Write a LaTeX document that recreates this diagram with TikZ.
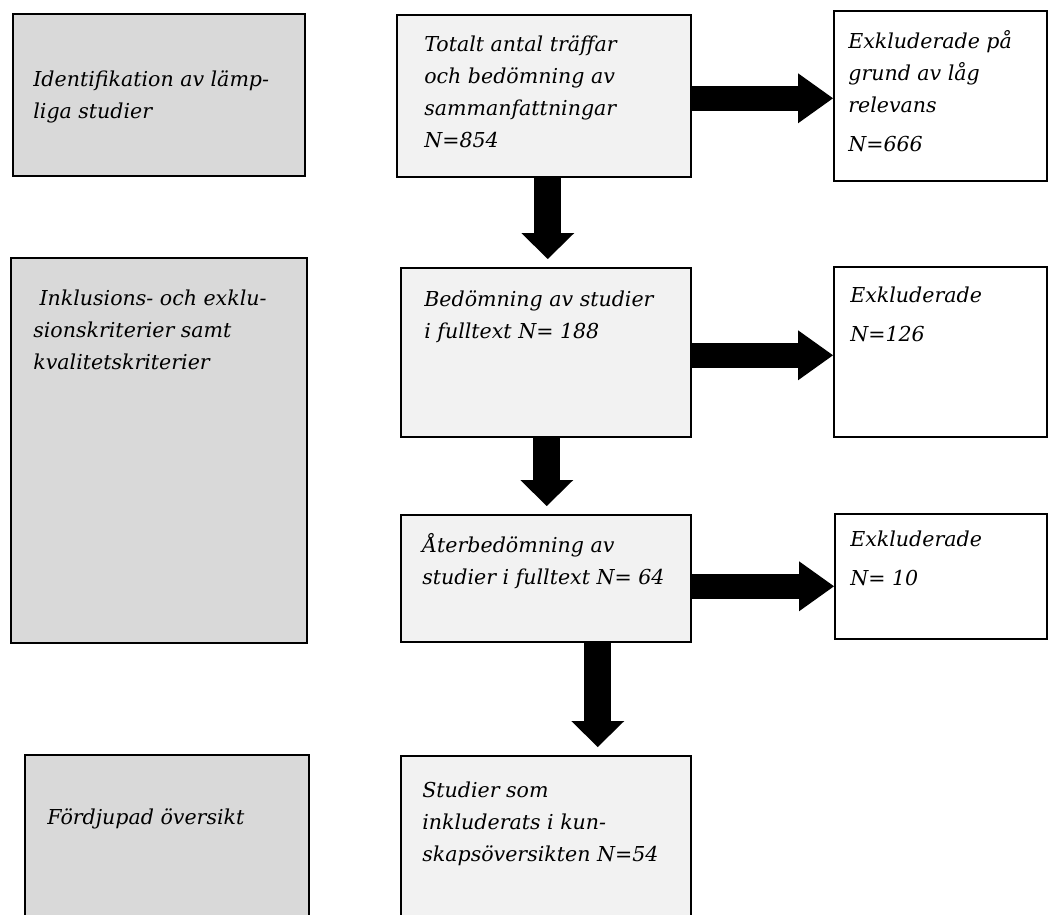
\documentclass[tikz,border=0pt]{standalone}
\usepackage{fontspec}
\setmainfont{DejaVu Serif}
\usetikzlibrary{arrows.meta,positioning,calc}
\definecolor{phasegray}{HTML}{D9D9D9}
\definecolor{flowgray}{HTML}{F2F2F2}
\tikzset{
  boxbase/.style={rectangle,draw=black,line width=0.9pt,anchor=north west,inner sep=0pt},
  phase/.style={boxbase,fill=phasegray},
  flow/.style={boxbase,fill=flowgray},
  excl/.style={boxbase,fill=white},
  txt/.style={anchor=north west,inner sep=0pt,align=left,
    font=\fontsize{11.7pt}{18.2pt}\selectfont\itshape},
  fatdown/.style={line width=0.54cm,
    -{Triangle[length=0.52cm,width=1.06cm,line width=0pt]},shorten >=0.16cm},
  fatright/.style={line width=0.5cm,
    -{Triangle[length=0.7cm,width=1.0cm,line width=0pt]}}
}
\begin{document}
\begin{tikzpicture}[x=0.02cm,y=-0.02cm]
\useasboundingbox (0,0) rectangle (1048,914);
\clip (0,0) rectangle (1048,914);

% left column
\node[phase,minimum width=5.84cm,minimum height=3.24cm] (ident) at (12,13) {};
\node[phase,minimum width=5.92cm,minimum height=7.70cm] (incl) at (10,257) {};
\node[phase,minimum width=5.68cm,minimum height=3.52cm] (ford) at (24,754) {};

% middle column
\node[flow,minimum width=5.88cm,minimum height=3.24cm] (tot) at (396,14) {};
\node[flow,minimum width=5.80cm,minimum height=3.38cm] (bed) at (400,267) {};
\node[flow,minimum width=5.80cm,minimum height=2.54cm] (ater) at (400,514) {};
\node[flow,minimum width=5.80cm,minimum height=3.50cm] (stud) at (400,755) {};

% right column
\node[excl,minimum width=4.26cm,minimum height=3.40cm] (ex1) at (833,10) {};
\node[excl,minimum width=4.26cm,minimum height=3.40cm] (ex2) at (833,266) {};
\node[excl,minimum width=4.24cm,minimum height=2.50cm] (ex3) at (834,513) {};

% texts
\node[txt] (identtxt) at ([shift={(21,57)}]ident.north west)
  {Identifikation av lämp-\\liga studier};
\node[txt] (incltxt) at ([shift={(23,33)}]incl.north west)
  {\hspace{0.3em}Inklusions- och exklu-\\sionskriterier samt\\kvalitetskriterier};
\node[txt] (fordtxt) at ([shift={(23,54)}]ford.north west)
  {Fördjupad översikt};
\node[txt] (tottxt) at ([shift={(28,21)}]tot.north west)
  {Totalt antal träffar\\och bedömning av\\sammanfattningar\\N=854};
\node[txt] (bedtxt) at ([shift={(24,23)}]bed.north west)
  {Bedömning av studier\\i fulltext N= 188};
\node[txt] (atertxt) at ([shift={(22,19)}]ater.north west)
  {Återbedömning av\\studier i fulltext N= 64};
\node[txt] (studtxt) at ([shift={(22,27)}]stud.north west)
  {Studier som\\inkluderats i kun-\\skapsöversikten N=54};
\node[txt] (ex1txt) at ([shift={(15,20)}]ex1.north west)
  {Exkluderade på\\grund av låg\\relevans\\[4pt]N=666};
\node[txt] (ex2txt) at ([shift={(17,21)}]ex2.north west)
  {Exkluderade\\[3.5pt]N=126};
\node[txt] (ex3txt) at ([shift={(16,18)}]ex3.north west)
  {Exkluderade\\[4pt]N= 10};

% arrows
\draw[fatdown] ([xshift=0.08cm]tot.south) -- ([xshift=0.08cm]tot.south |- bed.north);
\draw[fatdown] ([xshift=0.02cm]bed.south) -- ([xshift=0.02cm]bed.south |- ater.north);
\draw[fatdown] ([xshift=1.04cm]ater.south) -- ([xshift=1.04cm]ater.south |- stud.north);
\draw[fatright] ([yshift=-0.05cm]tot.east) -- ([yshift=-0.05cm]tot.east -| ex1.west);
\draw[fatright] ([yshift=-0.06cm]bed.east) -- ([yshift=-0.06cm]bed.east -| ex2.west);
\draw[fatright] ([yshift=-0.16cm]ater.east) -- ([yshift=-0.16cm]ater.east -| ex3.west);
\end{tikzpicture}
\end{document}
